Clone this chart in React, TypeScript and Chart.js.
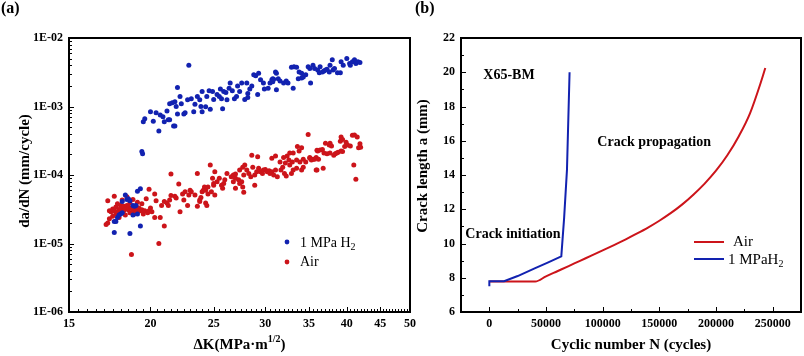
import React, { useEffect, useRef } from "react";
import { Chart, registerables } from "chart.js";
Chart.register(...registerables);

const SERIF = '"Liberation Serif", "Times New Roman", serif';
const BLUE = "rgb(18,34,176)";
const RED = "rgb(204,20,26)";

// ---------- Panel (a): da/dN vs ΔK ----------
const h2DeltaK = [
  17.6, 17.6, 17.7, 17.8, 17.9, 18.0, 18.1, 18.1, 18.3, 18.4, 18.5, 18.6, 18.6, 18.8, 18.8, 18.9, 19.0, 19.1, 19.1, 19.3, 19.3,
  19.4, 19.45, 19.5, 19.6, 20.0, 20.2, 20.4, 20.6, 20.7, 20.9, 21.0, 21.2, 21.3, 21.4, 21.4, 21.6, 21.7, 21.8, 21.8, 21.9,
  22.0, 22.0, 22.2, 22.3, 22.5, 22.6, 22.8, 22.9, 23.1, 23.3, 23.4, 23.6, 23.8, 23.9, 24.0, 24.0, 24.3, 24.4, 24.6, 24.7,
  24.9, 25.0, 25.3, 25.5, 25.6, 25.7, 25.8, 25.9, 26.1, 26.2, 26.4, 26.5, 26.7, 26.9, 27.1, 27.2, 27.4, 27.6, 27.9, 28.1,
  28.2, 28.2, 28.4, 28.6, 28.8, 29.0, 29.2, 29.3, 29.5, 29.8, 29.9, 30.3, 30.5, 30.7, 30.8, 30.8, 30.9, 31.1, 31.2, 31.2,
  31.4, 31.6, 32.0, 32.3, 32.5, 33.1, 32.9, 33.2, 33.5, 33.8, 34.1, 33.7, 34.1, 34.3, 34.6, 34.9, 35.1, 35.2, 35.5, 35.7,
  36.1, 36.4, 36.3, 36.7, 36.9, 37.1, 37.3, 37.6, 38.0, 37.7, 38.1, 38.3, 38.7, 39.1, 39.2, 39.5, 40.0, 40.4, 40.5, 40.8,
  41.1, 41.3, 41.6, 41.9,
];
const h2Rate = [
  1.45e-5, 2.1e-5, 2.1e-5, 2.4e-5, 2.6e-5, 2.7e-5, 4.1e-5, 2.8e-5, 5.1e-5, 4.4e-5, 4.5e-5, 4.2e-5, 1.4e-5, 3.6e-5, 2.6e-5, 3.5e-5, 3.6e-5, 5.8e-5, 2.7e-5, 6.3e-5, 1.8e-5,
  2.2e-4, 2.05e-4, 6.0e-4, 6.6e-4, 8.4e-4, 6.1e-4, 8.1e-4, 4.4e-4, 7.5e-4, 7.1e-4, 6.0e-4, 8.6e-4, 6.4e-4, 6.4e-4, 1.1e-3, 1.13e-3, 5.2e-4, 1.17e-3, 5.2e-4, 1.0e-3,
  7.8e-4, 1.9e-3, 1.4e-3, 1.1e-3, 7.8e-4, 8.1e-4, 1.25e-3, 4.0e-3, 1.3e-3, 8.4e-4, 1.08e-3, 1.4e-3, 1.25e-3, 1.0e-3, 8.4e-4, 1.65e-3, 9.9e-4, 1.4e-3, 1.7e-3, 9.1e-4,
  1.65e-3, 1.27e-3, 1.5e-3, 1.4e-3, 1.8e-3, 1.3e-3, 9.3e-4, 1.65e-3, 1.6e-3, 1.25e-3, 1.85e-3, 2.2e-3, 1.7e-3, 1.3e-3, 1.4e-3, 2.0e-3, 1.65e-3, 2.2e-3, 1.27e-3, 2.2e-3,
  1.35e-3, 1.55e-3, 1.8e-3, 2.0e-3, 2.9e-3, 2.8e-3, 1.5e-3, 3.05e-3, 2.45e-3, 2.2e-3, 1.8e-3, 1.85e-3, 2.2e-3, 2.45e-3, 2.55e-3, 2.3e-3, 2.49e-3, 3.2e-3, 3.05e-3, 1.75e-3,
  2.55e-3, 2.35e-3, 2.2e-3, 2.35e-3, 2.2e-3, 1.85e-3, 3.75e-3, 3.8e-3, 3.75e-3, 3.2e-3, 3.05e-3, 2.55e-3, 2.6e-3, 2.7e-3, 2.9e-3, 3.8e-3, 3.6e-3, 2.2e-3, 4.0e-3, 3.6e-3,
  3.4e-3, 3.8e-3, 3.1e-3, 3.2e-3, 3.3e-3, 3.4e-3, 3.5e-3, 3.2e-3, 4.8e-3, 4.0e-3, 3.4e-3, 3.6e-3, 3.1e-3, 3.1e-3, 4.5e-3, 4.0e-3, 5.0e-3, 4.25e-3, 4.0e-3, 4.5e-3,
  4.8e-3, 4.25e-3, 4.5e-3, 4.4e-3,
];
const airDeltaK = [
  17.1, 17.2, 17.2, 17.3, 17.3, 17.4, 17.5, 17.5, 17.6, 17.6, 17.7, 17.7, 17.8, 17.8, 17.9, 17.9, 18.0, 18.0, 18.1, 18.1,
  18.2, 18.2, 18.3, 18.3, 18.4, 18.4, 18.5, 18.5, 18.6, 18.6, 18.7, 18.7, 18.8, 18.8, 18.9, 18.9, 19.0, 19.0, 19.1, 19.1,
  19.2, 19.3, 19.4, 19.4, 19.5, 19.6, 19.7, 19.8, 19.9, 19.9, 20.0, 20.1, 20.3, 20.3, 20.4, 20.6, 20.7, 20.8, 21.0, 21.0,
  21.2, 21.3, 21.4, 21.5, 21.5, 21.8, 21.9, 22.1, 22.2, 22.4, 22.5, 22.6, 22.8, 22.9, 23.0, 23.1, 23.4, 23.6, 23.6, 23.8,
  23.8, 23.9, 24.0, 24.1, 24.2, 24.3, 24.3, 24.4, 24.5, 24.5, 24.7, 24.8, 24.9, 25.0, 25.0, 25.1, 25.1, 25.3, 25.5, 25.7,
  25.8, 25.9, 26.0, 26.2, 26.6, 26.8, 26.8, 27.0, 27.0, 27.0, 27.3, 27.4, 27.4, 27.6, 27.7, 27.7, 27.8, 27.8, 27.9, 28.1,
  28.3, 28.5, 28.6, 28.7, 28.9, 28.9, 29.1, 29.2, 29.3, 29.5, 29.7, 29.8, 30.0, 30.2, 30.4, 30.5, 30.7, 30.7, 30.9, 31.1,
  31.1, 31.3, 31.6, 31.7, 31.9, 32.0, 32.1, 32.2, 32.3, 32.4, 32.6, 32.7, 32.7, 32.9, 33.0, 33.1, 33.1, 33.5, 33.5, 33.6,
  33.8, 33.9, 34.1, 34.1, 34.3, 34.3, 34.6, 34.9, 35.1, 35.1, 35.3, 35.5, 35.7, 35.9, 35.9, 36.0, 36.0, 36.1, 36.2, 36.4,
  36.7, 36.8, 36.9, 37.1, 37.3, 37.6, 37.7, 37.7, 37.9, 38.2, 38.4, 38.6, 38.8, 39.1, 39.2, 39.2, 39.4, 39.4, 39.7, 39.9,
  40.1, 40.5, 40.8, 41.0, 41.1, 41.3, 41.5, 41.7, 41.9, 42.0,
];
const airRate = [
  1.9e-5, 2.0e-5, 4.2e-5, 2.3e-5, 3.0e-5, 2.9e-5, 3.2e-5, 2.5e-5, 4.9e-5, 3.0e-5, 2.7e-5, 3.4e-5, 3.8e-5, 2.9e-5, 3.1e-5, 2.4e-5, 3.6e-5, 3.3e-5, 2.9e-5, 4.3e-5,
  3.0e-5, 3.5e-5, 2.6e-5, 3.2e-5, 3.6e-5, 4.8e-5, 3.1e-5, 3.4e-5, 2.8e-5, 3.9e-5, 3.3e-5, 6.9e-6, 4.4e-5, 3.0e-5, 3.3e-5, 2.7e-5, 3.5e-5, 3.2e-5, 4.0e-5, 2.9e-5,
  3.3e-5, 3.0e-5, 3.1e-5, 3.8e-5, 2.7e-5, 3.0e-5, 4.5e-5, 2.8e-5, 6.2e-5, 3.0e-5, 3.3e-5, 2.9e-5, 5.3e-5, 2.4e-5, 4.2e-5, 1.0e-5, 2.4e-5, 3.6e-5, 4.1e-5, 1.8e-5,
  3.9e-5, 3.6e-5, 4.3e-5, 5.0e-5, 1.03e-4, 4.9e-5, 4.6e-5, 7.4e-5, 2.9e-5, 5.3e-5, 4.3e-5, 5.7e-5, 3.6e-5, 5.1e-5, 6.0e-5, 5.7e-5, 5.1e-5, 3.5e-5, 1.05e-4, 4.3e-5,
  4.1e-5, 4.7e-5, 5.7e-5, 6.0e-5, 6.7e-5, 6.0e-5, 3.9e-5, 3.6e-5, 5.3e-5, 6.7e-5, 1.4e-4, 5.7e-5, 9.0e-5, 7.1e-5, 7.5e-5, 1.12e-4, 5.1e-5, 8.0e-5, 9.0e-5, 7.1e-5,
  6.4e-5, 7.5e-5, 8.5e-5, 1.05e-4, 9.4e-5, 1.0e-4, 8.0e-5, 9.0e-5, 1.03e-4, 6.4e-5, 8.5e-5, 7.5e-5, 1.18e-4, 8.0e-5, 6.7e-5, 1.3e-4, 1.0e-4, 5.6e-5, 1.4e-4, 1.18e-4,
  1.05e-4, 9.4e-5, 1.95e-4, 1.3e-4, 1.0e-4, 7.1e-5, 1.12e-4, 1.85e-4, 1.25e-4, 1.12e-4, 1.05e-4, 1.18e-4, 1.2e-4, 1.12e-4, 1.15e-4, 1.05e-4, 1.12e-4, 1.75e-4, 1.0e-4, 1.18e-4,
  1.9e-4, 9.4e-5, 1.55e-4, 1.18e-4, 1.3e-4, 1.8e-4, 1.05e-4, 1.5e-4, 9.7e-5, 1.9e-4, 1.65e-4, 1.4e-4, 2.1e-4, 1.05e-4, 1.55e-4, 1.18e-4, 2.1e-4, 1.25e-4, 1.66e-4, 2.6e-4,
  2.25e-4, 1.55e-4, 1.18e-4, 2.5e-4, 1.3e-4, 1.7e-4, 1.55e-4, 3.9e-4, 1.8e-4, 1.75e-4, 1.66e-4, 1.7e-4, 1.7e-4, 1.8e-4, 1.18e-4, 2.3e-4, 1.18e-4, 2.25e-4, 1.7e-4, 2.32e-4,
  2.35e-4, 1.25e-4, 2.1e-4, 2.9e-4, 2.05e-4, 2.75e-4, 2.1e-4, 2.9e-4, 2.65e-4, 1.95e-4, 2.05e-4, 2.1e-4, 2.15e-4, 3.1e-4, 3.6e-4, 2.25e-4, 3.3e-4, 2.2e-4, 2.6e-4, 3.0e-4,
  2.75e-4, 2.65e-4, 3.8e-4, 1.4e-4, 3.85e-4, 8.7e-5, 3.6e-4, 2.5e-4, 2.85e-4, 2.55e-4,
];
const deltaKTicks = [15, 20, 25, 30, 35, 40, 45, 50];
const rateTicks = [1e-6, 1e-5, 1e-4, 1e-3, 1e-2];

// ---------- Panel (b): crack length vs cycles ----------
const airCycles = [0, 20000, 40500, 50000, 60000, 70000, 80000, 90000, 100000, 110000, 120000, 130000, 140000, 150000, 160000, 170000, 180000, 190000, 200000, 210000, 220000, 230000, 240000, 243500];
const airLength = [7.78, 7.78, 7.78, 8.08, 8.38, 8.68, 8.99, 9.29, 9.6, 9.91, 10.23, 10.57, 10.93, 11.33, 11.77, 12.27, 12.85, 13.5, 14.25, 15.15, 16.25, 17.6, 19.5, 20.25];
const h2Cycles = [0, 0, 13000, 25000, 40000, 52000, 63500, 66000, 68500, 70800];
const h2Length = [7.5, 7.8, 7.8, 8.1, 8.55, 8.9, 9.25, 11.5, 14.3, 20.0];
const cycleTicks = [0, 50000, 100000, 150000, 200000, 250000];
const lengthTicks = [6, 8, 10, 12, 14, 16, 18, 20, 22];
const annotationsB = [
  { text: "X65-BM", n: -5300, a: 19.8 },
  { text: "Crack propagation", n: 95300, a: 15.9 },
  { text: "Crack initiation", n: -21200, a: 10.54 },
];

const bold = (n: number) => `bold ${n}px ${SERIF}`;
const reg = (n: number) => `${n}px ${SERIF}`;
const tickFont = { family: SERIF, size: 12, weight: "bold" as const };

function drawRich(ctx: any, segs: any[], x: number, y: number, align = "left") {
  let w = 0;
  for (const s of segs) { ctx.font = s.font; w += ctx.measureText(s.text).width; }
  let cx = align === "center" ? x - w / 2 : x;
  ctx.textAlign = "left";
  ctx.textBaseline = "middle";
  for (const s of segs) {
    ctx.font = s.font;
    ctx.fillText(s.text, cx, y + (s.dy || 0));
    cx += ctx.measureText(s.text).width;
  }
}

function rotatedText(ctx: any, text: string, font: string, cx: number, cy: number) {
  ctx.save();
  ctx.translate(cx, cy);
  ctx.rotate(-Math.PI / 2);
  ctx.font = font;
  ctx.textAlign = "center";
  ctx.textBaseline = "middle";
  ctx.fillText(text, 0, 0);
  ctx.restore();
}

const decorA = {
  id: "decorA",
  afterDraw(chart: any) {
    const { ctx, chartArea: ca } = chart;
    const x = chart.scales.x, y = chart.scales.y;
    ctx.save();
    ctx.strokeStyle = "#000";
    ctx.fillStyle = "#000";
    ctx.lineWidth = 1;
    ctx.beginPath();
    for (let k = 0; k <= 70; k++) {
      const v = 15 + k * 0.5;
      const px = Math.round(x.getPixelForValue(v)) + 0.5;
      const len = v % 5 === 0 ? 5 : 3;
      ctx.moveTo(px, ca.bottom);
      ctx.lineTo(px, ca.bottom - len);
    }
    for (let e = -6; e <= -2; e++) {
      for (let m = 1; m <= 9; m++) {
        const v = m * Math.pow(10, e);
        if (v > 1.0001e-2) break;
        const py = Math.round(y.getPixelForValue(v)) + 0.5;
        const len = m === 1 ? 5 : 3;
        ctx.moveTo(ca.left, py);
        ctx.lineTo(ca.left + len, py);
      }
    }
    ctx.stroke();
    ctx.lineWidth = 2;
    ctx.strokeRect(ca.left, ca.top, ca.right - ca.left, ca.bottom - ca.top);

    drawRich(ctx, [
      { text: "\u0394K(MPa\u00b7m", font: bold(15) },
      { text: "1/2", font: bold(10), dy: -6 },
      { text: ")", font: bold(15) },
    ], (ca.left + ca.right) / 2, 345, "center");
    rotatedText(ctx, "da/dN (mm/cycle)", bold(15), 25, 171);

    drawRich(ctx, [{ text: "(a)", font: bold(16) }], 1, 9);

    ctx.fillStyle = BLUE;
    ctx.beginPath(); ctx.arc(287, 242, 2.4, 0, Math.PI * 2); ctx.fill();
    ctx.fillStyle = RED;
    ctx.beginPath(); ctx.arc(287, 262, 2.4, 0, Math.PI * 2); ctx.fill();
    ctx.fillStyle = "#000";
    drawRich(ctx, [
      { text: "1 MPa H", font: reg(14) },
      { text: "2", font: reg(10), dy: 4 },
    ], 300, 243);
    drawRich(ctx, [{ text: "Air", font: reg(14) }], 300, 262);
    ctx.restore();
  },
};

const decorB = {
  id: "decorB",
  afterDraw(chart: any) {
    const { ctx, chartArea: ca } = chart;
    const x = chart.scales.x, y = chart.scales.y;
    ctx.save();
    ctx.strokeStyle = "#000";
    ctx.fillStyle = "#000";
    ctx.lineWidth = 1;
    ctx.beginPath();
    for (let k = -1; k <= 11; k++) {
      const v = k * 25000;
      const px = Math.round(x.getPixelForValue(v)) + 0.5;
      const len = v % 50000 === 0 ? 5 : 3;
      ctx.moveTo(px, ca.bottom);
      ctx.lineTo(px, ca.bottom - len);
    }
    for (let v = 6; v <= 22; v++) {
      const py = Math.round(y.getPixelForValue(v)) + 0.5;
      const len = v % 2 === 0 ? 5 : 3;
      ctx.moveTo(ca.left, py);
      ctx.lineTo(ca.left + len, py);
    }
    ctx.stroke();
    ctx.lineWidth = 2;
    ctx.strokeRect(ca.left, ca.top, ca.right - ca.left, ca.bottom - ca.top);

    drawRich(ctx, [{ text: "Cyclic number N (cycles)", font: bold(15) }], (ca.left + ca.right) / 2, 345, "center");
    rotatedText(ctx, "Crack length a (mm)", bold(15), 11, 166);
    drawRich(ctx, [{ text: "(b)", font: bold(16) }], 3, 9);

    for (const an of annotationsB) {
      drawRich(ctx, [{ text: an.text, font: bold(14) }], x.getPixelForValue(an.n), y.getPixelForValue(an.a));
    }

    ctx.lineWidth = 2;
    ctx.strokeStyle = RED;
    ctx.beginPath(); ctx.moveTo(282, 242); ctx.lineTo(312, 242); ctx.stroke();
    ctx.strokeStyle = BLUE;
    ctx.beginPath(); ctx.moveTo(282, 259); ctx.lineTo(312, 259); ctx.stroke();
    ctx.fillStyle = "#000";
    drawRich(ctx, [{ text: "Air", font: reg(15) }], 321, 242);
    drawRich(ctx, [
      { text: "1 MPaH", font: reg(15) },
      { text: "2", font: reg(10), dy: 4 },
    ], 316, 260);
    ctx.restore();
  },
};

const fmtRate = (v: number) => {
  const e = Math.round(Math.log10(v));
  return "1E-" + String(Math.abs(e)).padStart(2, "0");
};

export default function App() {
  const refA = useRef<HTMLCanvasElement>(null);
  const refB = useRef<HTMLCanvasElement>(null);

  useEffect(() => {
    const chartA = new Chart(refA.current as HTMLCanvasElement, {
      type: "scatter",
      data: {
        datasets: [
          {
            label: "1 MPa H2",
            data: h2DeltaK.map((k, i) => ({ x: k, y: h2Rate[i] })),
            backgroundColor: BLUE,
            borderColor: BLUE,
            pointRadius: 2.5,
            borderWidth: 0,
          },
          {
            label: "Air",
            data: airDeltaK.map((k, i) => ({ x: k, y: airRate[i] })),
            backgroundColor: RED,
            borderColor: RED,
            pointRadius: 2.5,
            borderWidth: 0,
          },
        ],
      },
      options: {
        responsive: false,
        animation: false,
        devicePixelRatio: 1,
        layout: { padding: { top: 38, right: 14, left: 0, bottom: 0 } },
        plugins: { legend: { display: false }, tooltip: { enabled: false } },
        scales: {
          x: {
            type: "logarithmic",
            min: 15,
            max: 50,
            afterBuildTicks: (s: any) => { s.ticks = deltaKTicks.map((v) => ({ value: v })); },
            afterFit: (s: any) => { s.height = 44; s.paddingLeft = 0; s.paddingRight = 0; },
            grid: { display: false, drawTicks: false },
            border: { display: false },
            ticks: { callback: (v: any) => String(v), font: tickFont, color: "#000", padding: 5, autoSkip: false, maxRotation: 0 },
          },
          y: {
            type: "logarithmic",
            min: 1e-6,
            max: 1e-2,
            afterBuildTicks: (s: any) => { s.ticks = rateTicks.map((v) => ({ value: v })); },
            afterFit: (s: any) => { s.width = 69; s.paddingTop = 0; s.paddingBottom = 0; },
            grid: { display: false, drawTicks: false },
            border: { display: false },
            ticks: { callback: (v: any) => fmtRate(Number(v)), font: tickFont, color: "#000", padding: 6, autoSkip: false },
          },
        },
      } as any,
      plugins: [decorA],
    });

    const chartB = new Chart(refB.current as HTMLCanvasElement, {
      type: "line",
      data: {
        datasets: [
          {
            label: "Air",
            data: airCycles.map((n, i) => ({ x: n, y: airLength[i] })),
            borderColor: RED,
            borderWidth: 2,
            pointRadius: 0,
            cubicInterpolationMode: "monotone",
            order: 1,
          },
          {
            label: "1 MPaH2",
            data: h2Cycles.map((n, i) => ({ x: n, y: h2Length[i] })),
            borderColor: BLUE,
            borderWidth: 2,
            pointRadius: 0,
            tension: 0,
            order: 0,
          },
        ],
      },
      options: {
        responsive: false,
        animation: false,
        devicePixelRatio: 1,
        layout: { padding: { top: 38, right: 3, left: 0, bottom: 0 } },
        plugins: { legend: { display: false }, tooltip: { enabled: false } },
        scales: {
          x: {
            type: "linear",
            min: -25000,
            max: 275000,
            afterBuildTicks: (s: any) => { s.ticks = cycleTicks.map((v) => ({ value: v })); },
            afterFit: (s: any) => { s.height = 44; s.paddingLeft = 0; s.paddingRight = 0; },
            grid: { display: false, drawTicks: false },
            border: { display: false },
            ticks: { callback: (v: any) => String(v), font: tickFont, color: "#000", padding: 5, autoSkip: false, maxRotation: 0 },
          },
          y: {
            type: "linear",
            min: 6,
            max: 22,
            afterBuildTicks: (s: any) => { s.ticks = lengthTicks.map((v) => ({ value: v })); },
            afterFit: (s: any) => { s.width = 49; s.paddingTop = 0; s.paddingBottom = 0; },
            grid: { display: false, drawTicks: false },
            border: { display: false },
            ticks: { callback: (v: any) => String(v), font: tickFont, color: "#000", padding: 6, autoSkip: false },
          },
        },
      } as any,
      plugins: [decorB],
    });

    return () => {
      chartA.destroy();
      chartB.destroy();
    };
  }, []);

  return (
    <div style={{ position: "fixed", left: 0, top: 0, width: 804, height: 356, background: "#fff", overflow: "hidden" }}>
      <canvas ref={refA} width={424} height={356} style={{ position: "absolute", left: 0, top: 0 }} />
      <canvas ref={refB} width={392} height={356} style={{ position: "absolute", left: 412, top: 0 }} />
    </div>
  );
}
